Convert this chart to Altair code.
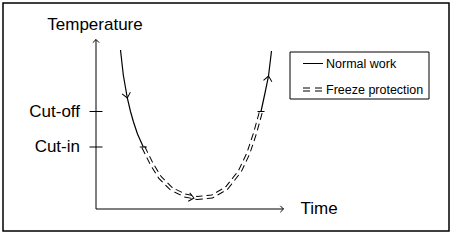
import altair as alt
import pandas as pd

# ---- data (time, temperature in chart units) ----
curve_time = [24.5, 27.3, 31.3, 34.5, 37.5, 41.5, 47.3, 55.7, 64.0, 75.5, 89.0, 101.0,
              116.0, 130.7, 144.0, 152.3, 159.0, 165.0, 169.0, 172.5, 175.5]
curve_temp = [159.0, 134.0, 111.0, 97.5, 87.0, 75.0, 62.0, 45.0, 31.5, 20.0, 13.5, 11.0,
              12.5, 21.0, 38.0, 55.7, 75.7, 97.5, 116.0, 133.0, 158.0]

tick_labels = ["Cut-in", "Cut-off"]
tick_values = [62.0, 97.5]
cut_in, cut_off = tick_values

axis_time_len = 187.5
axis_temp_len = 169.5

# direction arrows on the curve (time, temp, angle)
arrow_time = [31.3, 98.0, 172.5]
arrow_temp = [111.0, 11.0, 133.0]
arrow_angle = [78, 10, 279]

legend_labels = ["Normal work", "Freeze protection"]

FONT = "Liberation Sans"

# ---- tables ----
imin = curve_temp.index(min(curve_temp))
rows = []
for i, (t, T) in enumerate(zip(curve_time, curve_temp)):
    left = i <= imin
    thr = cut_in if left else cut_off
    if T >= thr:
        rows.append(dict(t=t, T=T, seg="left" if left else "right", kind="solid", i=i))
    if T <= thr:
        rows.append(dict(t=t, T=T, seg="freeze", kind="freeze", i=i))
curve = pd.DataFrame(rows)
solid_df = curve[curve.kind == "solid"]
freeze_df = curve[curve.kind == "freeze"]

# transition marks where the mode changes
trans_df = pd.DataFrame({
    "t": [curve_time[curve_temp.index(cut_in)], curve_time[len(curve_temp) - 1 - curve_temp[::-1].index(cut_off)]],
    "T": [cut_in, cut_off],
})

arrows_df = pd.DataFrame({"t": arrow_time, "T": arrow_temp, "angle": arrow_angle})
axis_arrows_df = pd.DataFrame({"t": [0, axis_time_len], "T": [axis_temp_len, 0], "angle": [270, 0]})
axes_df = pd.DataFrame({"t": [0, 0], "T": [0, 0], "t2": [0, axis_time_len], "T2": [axis_temp_len, 0]})
yticks_df = pd.DataFrame({"t": [0] * len(tick_values), "T": tick_values, "label": tick_labels})
title_df = pd.DataFrame({"t": [0, axis_time_len], "T": [axis_temp_len, 0],
                         "label": ["Temperature", "Time"]})

xs = alt.Scale(domain=[-93, 353], nice=False, zero=False)
ys = alt.Scale(domain=[-22, 206], nice=False, zero=False)
X = alt.X("t:Q", scale=xs, axis=None)
Y = alt.Y("T:Q", scale=ys, axis=None)

axes = alt.Chart(axes_df).mark_rule(color="black", strokeWidth=1).encode(
    x=X, y=Y, x2="t2:Q", y2="T2:Q")

chevron = "M-1,-1L0,0L-1,1"
axis_arrows = alt.Chart(axis_arrows_df).mark_point(
    shape=chevron, filled=False, color="black", strokeWidth=1, opacity=1, size=40
).encode(x=X, y=Y, angle=alt.Angle("angle:Q", scale=None))

yticks = alt.Chart(yticks_df).mark_point(
    shape="M-1,0L1,0", filled=False, color="black", strokeWidth=1, opacity=1, size=169
).encode(x=X, y=Y)

ylabels = alt.Chart(yticks_df).mark_text(
    align="right", baseline="middle", dx=-16, font=FONT, fontSize=17, color="black"
).encode(x=X, y=Y, text="label:N")

temp_title = alt.Chart(title_df.iloc[[0]]).mark_text(
    align="center", baseline="middle", dy=-15, dx=-1, font=FONT, fontSize=17, color="black"
).encode(x=X, y=Y, text="label:N")
time_title = alt.Chart(title_df.iloc[[1]]).mark_text(
    align="left", baseline="middle", dx=17, font=FONT, fontSize=17, color="black"
).encode(x=X, y=Y, text="label:N")

solid = alt.Chart(solid_df).mark_line(color="black", strokeWidth=1.2).encode(
    x=X, y=Y, detail="seg:N", order="i:Q")
freeze_outer = alt.Chart(freeze_df).mark_line(
    color="black", strokeWidth=4, strokeDash=[7, 4]).encode(x=X, y=Y, order="i:Q")
freeze_inner = alt.Chart(freeze_df).mark_line(
    color="white", strokeWidth=2).encode(x=X, y=Y, order="i:Q")

trans = alt.Chart(trans_df).mark_point(
    shape="M-1,0L1,0", filled=False, color="black", strokeWidth=1, opacity=1, size=49
).encode(x=X, y=Y)

arrows = alt.Chart(arrows_df).mark_point(
    shape="M-1.2,-1L0,0L-1.2,1", filled=False, color="black", strokeWidth=1, opacity=1, size=72
).encode(x=X, y=Y, angle=alt.Angle("angle:Q", scale=None))

# ---- manual legend ----
one = pd.DataFrame({"a": [0]})
leg_box = alt.Chart(one).mark_rect(fill="white", stroke="black", strokeWidth=1).encode(
    x=alt.value(287), x2=alt.value(426), y=alt.value(49), y2=alt.value(96))
leg_solid = alt.Chart(one).mark_rule(color="black", strokeWidth=1).encode(
    x=alt.value(300), x2=alt.value(320), y=alt.value(60.5))
leg_dash_outer = alt.Chart(one).mark_rule(color="black", strokeWidth=4, strokeDash=[7, 5]).encode(
    x=alt.value(300), x2=alt.value(320), y=alt.value(86.5))
leg_dash_inner = alt.Chart(one).mark_rule(color="white", strokeWidth=2).encode(
    x=alt.value(300), x2=alt.value(320), y=alt.value(86.5))
leg_t1 = alt.Chart(one).mark_text(align="left", baseline="middle", font=FONT, fontSize=12.5,
                                  color="black").encode(
    x=alt.value(323), y=alt.value(60.5), text=alt.value(legend_labels[0]))
leg_t2 = alt.Chart(one).mark_text(align="left", baseline="middle", font=FONT, fontSize=12.5,
                                  color="black").encode(
    x=alt.value(323), y=alt.value(86.5), text=alt.value(legend_labels[1]))

chart = alt.layer(
    axes, axis_arrows, yticks, ylabels, temp_title, time_title,
    solid, freeze_outer, freeze_inner, trans, arrows,
    leg_box, leg_solid, leg_dash_outer, leg_dash_inner, leg_t1, leg_t2,
).properties(
    width=446, height=228,
    padding={"left": 3, "top": 3, "right": 14, "bottom": 10},
    autosize=alt.AutoSizeParams(type="none"),
    background="white",
).configure_view(stroke="black", strokeWidth=1.5)

chart.save("out.html", embed_options={"renderer": "svg", "actions": False})
